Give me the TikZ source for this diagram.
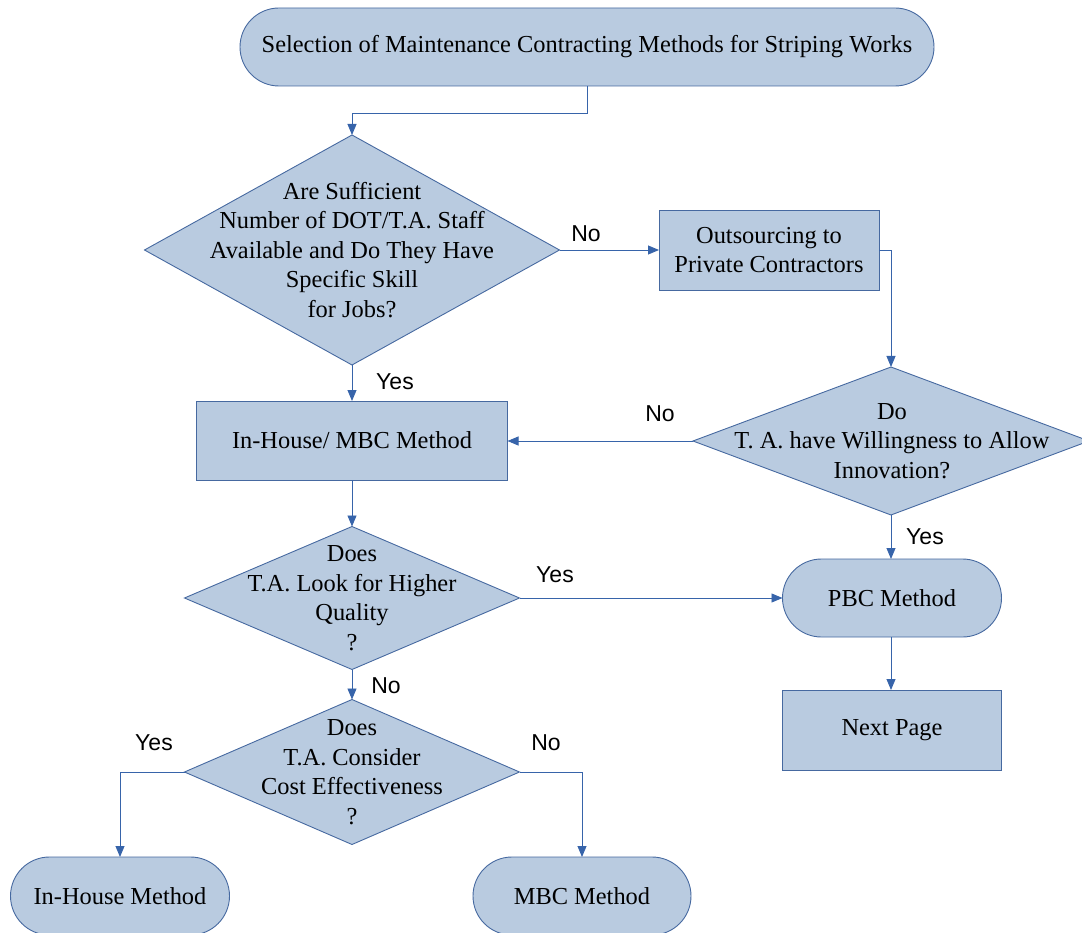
\documentclass[tikz,border=0pt]{standalone}
\usepackage{fontspec}
\setmainfont{Liberation Serif}
\newfontfamily\labelfont{Liberation Sans}
\usetikzlibrary{arrows.meta,shapes.geometric}
\definecolor{boxfill}{RGB}{185,203,224}
\definecolor{boxline}{RGB}{70,105,160}
\definecolor{flow}{RGB}{55,100,170}
\begin{document}
\begin{tikzpicture}[x=1pt,y=-1pt,
  every node/.style={inner sep=0pt, outer sep=0pt},
  txt/.style={font=\fontsize{24.4}{29.5}\selectfont, align=center},
  term/.style={txt, draw=boxline, fill=boxfill, line width=0.9pt, rounded corners=39pt, minimum height=78pt},
  procbox/.style={txt, draw=boxline, fill=boxfill, line width=0.9pt},
  decide/.style={diamond, draw=boxline, fill=boxfill, line width=0.9pt},
  yn/.style={font=\labelfont\fontsize{23}{26}\selectfont},
  flowline/.style={draw=flow, line width=0.9pt, -{Triangle[length=11pt,width=9pt]}}
]
\useasboundingbox (0,0) rectangle (1082,933);

% start
\node[term, minimum width=694pt] (start) at (587,47) {Selection of Maintenance Contracting Methods for Striping Works};

% first decision
\node[decide, minimum width=415pt, minimum height=230pt] (d1) at (352,250) {};
\node[txt] at (352,250) {Are Sufficient\\Number of DOT/T.A. Staff\\Available and Do They Have\\Specific Skill\\for Jobs?};

\node[procbox, minimum width=220pt, minimum height=80pt] (out) at (769,250) {Outsourcing to\\Private Contractors};

% innovation decision
\node[decide, minimum width=396pt, minimum height=148pt] (d2) at (891,441) {};
\node[txt] at (892,441) {Do\\T. A. have Willingness to Allow\\Innovation?};

\node[procbox, minimum width=311pt, minimum height=79pt] (mbc1) at (352,440.5) {In-House/ MBC Method};

% quality decision
\node[decide, minimum width=335pt, minimum height=143pt] (d3) at (352,598) {};
\node[txt] at (352,598) {Does\\T.A. Look for Higher\\Quality\\?};

\node[term, minimum width=219pt] (pbc) at (892,598) {PBC Method};
\node[procbox, minimum width=219pt, minimum height=80pt] (next) at (892,730) {Next Page};

% cost decision
\node[decide, minimum width=335pt, minimum height=145pt] (d4) at (352,772) {};
\node[txt] at (352,772) {Does\\T.A. Consider\\Cost Effectiveness\\?};

\node[term, minimum width=219pt] (inh) at (120,896) {In-House Method};
\node[term, minimum width=218pt] (mbc2) at (582,896) {MBC Method};

% connectors
\draw[flowline] (start.south) -- ++(0,27) -| (d1.north);
\draw[flowline] (d1.east) -- (out.west);
\draw[flowline] (out.east) -- ++(12,0) -| (d2.north);
\draw[flowline] (d2.west) -- (d2.west -| mbc1.east);
\draw[flowline] (d1.south) -- (mbc1.north);
\draw[flowline] (mbc1.south) -- (d3.north);
\draw[flowline] (d3.east) -- (pbc.west);
\draw[flowline] (d2.south) -- (d2.south |- pbc.north);
\draw[flowline] (pbc.south -| d2.south) -- (next.north -| d2.south);
\draw[flowline] (d3.south) -- (d4.north);
\draw[flowline] (d4.west) -| (inh.north);
\draw[flowline] (d4.east) -| (mbc2.north);

% branch labels
\node[yn] (l1) at (586,234) {No};
\node[yn] (l2) at (395,382) {Yes};
\node[yn] (l3) at (660,414) {No};
\node[yn] (l4) at (925,537) {Yes};
\node[yn] (l5) at (555,575) {Yes};
\node[yn] (l6) at (386,686) {No};
\node[yn] (l7) at (154,743) {Yes};
\node[yn] (l8) at (546,743) {No};
\end{tikzpicture}
\end{document}
